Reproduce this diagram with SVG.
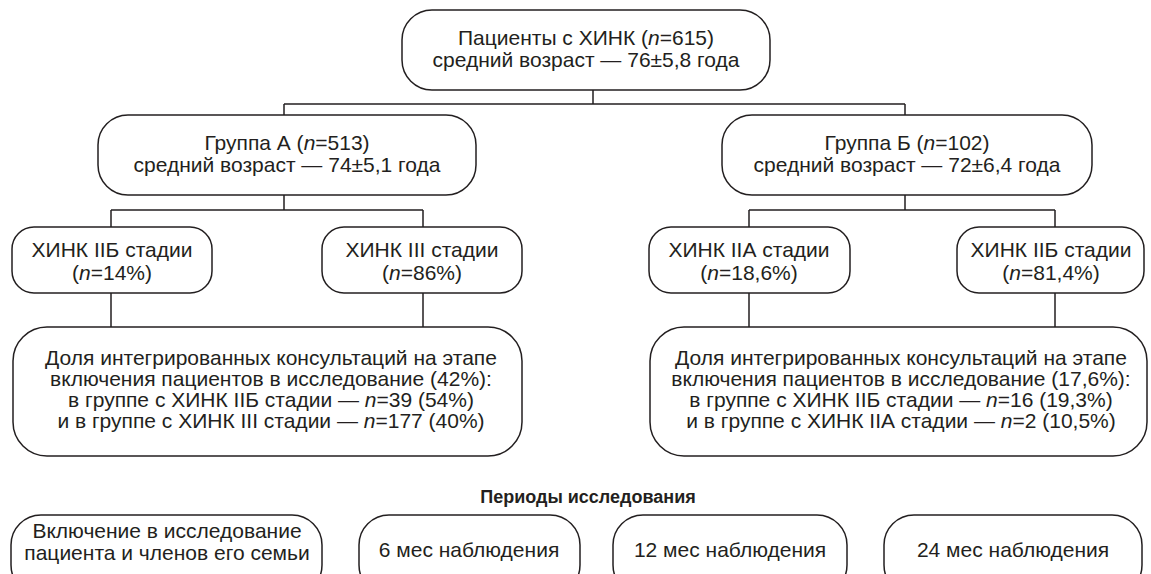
<svg xmlns="http://www.w3.org/2000/svg" width="1151" height="574" viewBox="0 0 1151 574">
<style>
.box{fill:#fff;stroke:#231f20;stroke-width:1.5}
.t{font-family:"Liberation Sans Narrow","Liberation Sans","DejaVu Sans Condensed",sans-serif;font-size:21px;fill:#231f20;text-anchor:middle}
.h{font-family:"Liberation Sans Narrow","Liberation Sans",sans-serif;font-size:18px;font-weight:bold;fill:#231f20;text-anchor:middle}
.i{font-style:italic}
.c{fill:none;stroke:#231f20;stroke-width:1.5}
</style>
<rect width="1151" height="574" fill="#fff"/>
<g id="connectors">
<path class="c" d="M593 90V104M284 104H905M284 104V115M905 104V115"/>
<path class="c" d="M284 195V210M111 210H423M111 210V227M423 210V227"/>
<path class="c" d="M905 195V210M749 210H1055M749 210V227M1055 210V227"/>
<path class="c" d="M111 293V327M423 293V327M749 293V327M1055 293V327"/>
</g>
<g id="root">
<rect class="box" x="402" y="10" width="368" height="80" rx="30"/>
<text class="t" x="586" y="45">Пациенты с ХИНК (<tspan class="i">n</tspan>=615)</text>
<text class="t" x="586" y="67">средний возраст — 76±5,8 года</text>
</g>
<g id="groupA">
<rect class="box" x="98" y="115" width="378" height="80" rx="30"/>
<text class="t" x="287" y="150">Группа А (<tspan class="i">n</tspan>=513)</text>
<text class="t" x="287" y="172">средний возраст — 74±5,1 года</text>
</g>
<g id="groupB">
<rect class="box" x="722" y="115" width="370" height="80" rx="30"/>
<text class="t" x="907" y="150">Группа Б (<tspan class="i">n</tspan>=102)</text>
<text class="t" x="907" y="172">средний возраст — 72±6,4 года</text>
</g>
<g id="stageA1">
<rect class="box" x="12" y="227" width="200" height="66" rx="22"/>
<text class="t" x="112" y="257">ХИНК IIБ стадии</text>
<text class="t" x="112" y="280">(<tspan class="i">n</tspan>=14%)</text>
</g>
<g id="stageA2">
<rect class="box" x="322" y="227" width="200" height="66" rx="22"/>
<text class="t" x="422" y="257">ХИНК III стадии</text>
<text class="t" x="422" y="280">(<tspan class="i">n</tspan>=86%)</text>
</g>
<g id="stageB1">
<rect class="box" x="649" y="227" width="201" height="66" rx="22"/>
<text class="t" x="749" y="257">ХИНК IIА стадии</text>
<text class="t" x="749" y="280">(<tspan class="i">n</tspan>=18,6%)</text>
</g>
<g id="stageB2">
<rect class="box" x="957" y="227" width="187" height="66" rx="22"/>
<text class="t" x="1051" y="257">ХИНК IIБ стадии</text>
<text class="t" x="1051" y="280">(<tspan class="i">n</tspan>=81,4%)</text>
</g>
<g id="consultA">
<rect class="box" x="13" y="327" width="509" height="129" rx="34"/>
<text class="t" x="271" y="365">Доля интегрированных консультаций на этапе</text>
<text class="t" x="271" y="386">включения пациентов в исследование (42%):</text>
<text class="t" x="271" y="407">в группе с ХИНК IIБ стадии — <tspan class="i">n</tspan>=39 (54%)</text>
<text class="t" x="271" y="428">и в группе с ХИНК III стадии — <tspan class="i">n</tspan>=177 (40%)</text>
</g>
<g id="consultB">
<rect class="box" x="650" y="327" width="497" height="129" rx="34"/>
<text class="t" x="901" y="365">Доля интегрированных консультаций на этапе</text>
<text class="t" x="901" y="386">включения пациентов в исследование (17,6%):</text>
<text class="t" x="901" y="407">в группе с ХИНК IIБ стадии — <tspan class="i">n</tspan>=16 (19,3%)</text>
<text class="t" x="901" y="428">и в группе с ХИНК IIА стадии — <tspan class="i">n</tspan>=2 (10,5%)</text>
</g>
<g id="title">
<text class="h" x="588" y="503">Периоды исследования</text>
</g>
<g id="period0">
<rect class="box" x="11" y="515" width="311" height="80" rx="30"/>
<text class="t" x="167" y="538">Включение в исследование</text>
<text class="t" x="167" y="560">пациента и членов его семьи</text>
</g>
<g id="period6">
<rect class="box" x="359" y="515" width="221" height="80" rx="30"/>
<text class="t" x="469" y="557">6 мес наблюдения</text>
</g>
<g id="period12">
<rect class="box" x="613" y="515" width="234" height="80" rx="30"/>
<text class="t" x="730" y="557">12 мес наблюдения</text>
</g>
<g id="period24">
<rect class="box" x="884" y="515" width="258" height="80" rx="30"/>
<text class="t" x="1013" y="557">24 мес наблюдения</text>
</g>
</svg>
